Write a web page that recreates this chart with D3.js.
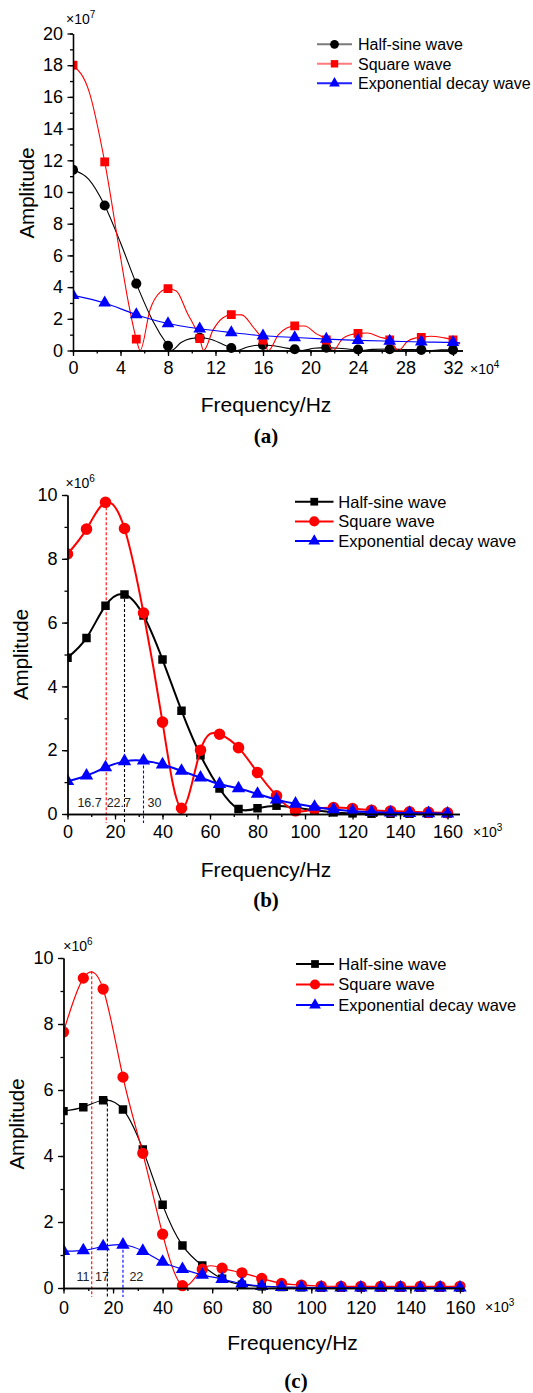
<!DOCTYPE html>
<html><head><meta charset="utf-8">
<script src="https://cdn.jsdelivr.net/npm/d3@7"></script>
<style>
body{margin:0;background:#fff}
svg{display:block}
text{font-family:"Liberation Sans",Arial,sans-serif;fill:#000}
</style>
</head><body>
<svg id="chart" width="533" height="1393"></svg>
<script>
// ---------------- data ----------------
const seriesNames = ["Half-sine wave", "Square wave", "Exponential decay wave"];

// panel (a): frequency x10^4 Hz, amplitude x10^7 (symbols)
const freqA = [0, 2.67, 5.33, 8, 10.67, 13.33, 16, 18.67, 21.33, 24, 26.67, 29.33, 32];
const halfSineA = [11.4, 9.15, 4.22, 0.3, 0.8, 0.16, 0.35, 0.08, 0.18, 0.06, 0.08, 0.04, 0.04];
const squareA = [18.0, 11.9, 0.72, 3.9, 0.75, 2.26, 0.66, 1.55, 0.66, 1.08, 0.66, 0.83, 0.66];
const expDecayA = [3.48, 3.0, 2.26, 1.7, 1.37, 1.13, 0.93, 0.82, 0.72, 0.64, 0.59, 0.54, 0.51];
// panel (a): traced line points (frequency, amplitude)
const halfSineLineFreqA = [0, 1.33, 2.67, 4.0, 5.33, 6.7, 8, 8.3, 9.1, 9.9, 10.67, 11.5, 12.6, 13.33, 13.8, 14.7, 15.3, 16, 16.9, 18.0, 18.67, 19.3, 20.3, 21.33, 22.4, 23.5, 24.1, 25.2, 26.67, 28.0, 29.33, 30.0, 31.0, 32];
const halfSineLineAmpA  = [11.4, 10.8, 9.15, 6.8, 4.22, 1.9, 0.3, 0, 0.5, 0.75, 0.8, 0.72, 0.4, 0.16, 0, 0.22, 0.32, 0.35, 0.3, 0.15, 0.08, 0, 0.14, 0.18, 0.14, 0.06, 0, 0.07, 0.09, 0.06, 0.04, 0, 0.04, 0.04];
const squareLineFreqA = [0, 1.33, 2.67, 4.0, 4.67, 5.33, 5.65, 6.5, 7.3, 8, 8.7, 9.6, 10.67, 11.0, 11.8, 12.6, 13.33, 14.2, 15.2, 16, 16.45, 17.3, 18.0, 18.67, 19.5, 20.5, 21.33, 21.9, 22.7, 23.4, 24, 24.8, 25.8, 26.67, 27.4, 28.2, 28.8, 29.33, 30.1, 31.1, 32, 32.6];
const squareLineAmpA  = [18.0, 16.4, 11.9, 5.9, 3.0, 0.72, 0, 2.6, 3.65, 3.9, 3.75, 2.4, 0.75, 0, 1.3, 2.05, 2.26, 2.25, 1.45, 0.66, 0, 1.0, 1.42, 1.55, 1.55, 1.05, 0.66, 0, 0.75, 1.0, 1.08, 1.1, 0.85, 0.66, 0, 0.6, 0.78, 0.83, 0.9, 0.82, 0.66, 0.4];
const expDecayLineFreqA = [0, 2.67, 5.33, 8, 10.67, 13.33, 16, 18.67, 21.33, 24, 26.67, 29.33, 32, 32.6];
const expDecayLineAmpA  = [3.48, 3.0, 2.26, 1.7, 1.37, 1.13, 0.93, 0.82, 0.72, 0.64, 0.59, 0.54, 0.51, 0.48];
const xTicksA = [0, 4, 8, 12, 16, 20, 24, 28, 32];
const yTicksA = [0, 2, 4, 6, 8, 10, 12, 14, 16, 18, 20];

// panel (b): frequency x10^3 Hz, amplitude x10^6
const freqB = [0, 8, 16, 24, 32, 40, 48, 56, 64, 72, 80, 88, 96, 104, 112, 120, 128, 136, 144, 152, 160];
const halfSineB = [4.9, 5.52, 6.53, 6.88, 6.22, 4.84, 3.24, 1.84, 0.8, 0.16, 0.18, 0.26, 0.2, 0.12, 0.05, 0.02, 0.01, 0.01, 0.01, 0.01, 0.01];
const squareB = [8.15, 8.93, 9.77, 8.95, 6.3, 2.88, 0.18, 2.0, 2.5, 2.08, 1.3, 0.57, 0.1, 0.15, 0.2, 0.17, 0.12, 0.09, 0.07, 0.05, 0.04];
const expDecayB = [1.03, 1.2, 1.46, 1.65, 1.67, 1.55, 1.35, 1.14, 0.94, 0.8, 0.63, 0.45, 0.32, 0.22, 0.14, 0.09, 0.06, 0.04, 0.03, 0.02, 0.01];
const peakFreqB = [16.3, 24, 32];
const peakAmpB = [9.77, 6.9, 1.68];
const peakColorB = ["#ff0000", "#000000", "#0000ff"];
const peakLabelsB = ["16.7", "22.7", "30"];
const peakLabelFreqB = [9.3, 21.6, 36.6];

// panel (c): frequency x10^3 Hz, amplitude x10^6
const freqC = [0, 8, 16, 24, 32, 40, 48, 56, 64, 72, 80, 88, 96, 104, 112, 120, 128, 136, 144, 152, 160];
const halfSineC = [5.36, 5.48, 5.69, 5.41, 4.2, 2.52, 1.29, 0.68, 0.28, 0.1, 0.05, 0.03, 0.02, 0.01, 0.01, 0.01, 0.01, 0.01, 0.01, 0.01, 0.01];
const squareC = [7.76, 9.39, 9.06, 6.39, 4.08, 1.63, 0.07, 0.57, 0.6, 0.46, 0.29, 0.14, 0.09, 0.06, 0.05, 0.05, 0.05, 0.05, 0.05, 0.05, 0.05];
const expDecayC = [1.12, 1.14, 1.26, 1.31, 1.12, 0.79, 0.57, 0.4, 0.27, 0.13, 0.06, 0.03, 0.02, 0.01, 0.01, 0.01, 0.01, 0.01, 0.01, 0.01, 0.01];
const peakFreqC = [11.4, 17.7, 24];
const peakAmpC = [9.6, 5.74, 1.31];
const peakColorC = ["#ff0000", "#000000", "#0000ff"];
const peakLabelsC = ["11", "17", "22"];
const peakLabelFreqC = [7.9, 15.5, 29.4];

const xTicksBC = [0, 20, 40, 60, 80, 100, 120, 140, 160];
const yTicksBC = [0, 2, 4, 6, 8, 10];

// ---------------- drawing ----------------
const svg = d3.select("#chart");
const colors = ["#000000", "#ff0000", "#0000ff"];

function drawPanel(p) {
  const x = d3.scaleLinear().domain(p.xDomain).range(p.xRange);
  const y = d3.scaleLinear().domain(p.yDomain).range(p.yRange);
  const g = svg.append("g");
  const defs = svg.append("defs");
  defs.append("clipPath").attr("id", "lc" + p.id).append("rect")
    .attr("x", p.xRange[0]).attr("y", p.yRange[1] - 40)
    .attr("width", p.xRange[1] - p.xRange[0] + 10).attr("height", p.yRange[0] - p.yRange[1] + 40);
  defs.append("clipPath").attr("id", "mc" + p.id).append("rect")
    .attr("x", p.xRange[0]).attr("y", p.yRange[1] - 40)
    .attr("width", 533 - p.xRange[0]).attr("height", p.yRange[0] - p.yRange[1] + 60);

  // dashed peak lines
  if (p.peakFreq) {
    p.peakFreq.forEach((f, i) => {
      g.append("line")
        .attr("x1", x(f)).attr("x2", x(f))
        .attr("y1", y(p.peakAmp[i])).attr("y2", y(0) + 9)
        .attr("stroke", p.peakColor[i])
        .attr("stroke-width", 1.1).attr("stroke-dasharray", "3,2");
      g.append("text").attr("x", x(p.peakLabelFreq[i])).attr("y", y(0) - 7)
        .attr("text-anchor", "middle").style("font-size", "12.5px").style("fill", "#222")
        .text(p.peakLabels[i]);
    });
  }

  // series
  p.series.forEach((s, si) => {
    const pts = p.freq.map((f, i) => [f, s[i]]);
    const linePts = p.lines ? p.lines[si][0].map((f, i) => [f, p.lines[si][1][i]]) : pts;
    g.append("path").datum(linePts)
      .attr("clip-path", `url(#lc${p.id})`)
      .attr("d", d3.line().x(d => x(d[0])).y(d => y(d[1])).curve(p.curve))
      .attr("fill", "none").attr("stroke", colors[si]).attr("stroke-width", p.lineWidth);
    g.append("g").attr("clip-path", `url(#mc${p.id})`)
      .selectAll("path").data(pts).join("path")
      .attr("transform", d => `translate(${x(d[0])},${y(d[1])})`)
      .attr("d", d3.symbol().type(p.symbols[si]).size(p.symSizes[si]))
      .attr("fill", colors[si]);
  });

  // axes
  const fs = "18px";
  const yMinor = d3.range(p.yDomain[0], p.yDomain[1] + 0.001, p.yMinorStep);
  const xMinor = d3.range(0, p.xDomain[1], p.xMinorStep);
  g.append("g").attr("transform", `translate(${x(0)},0)`)
    .call(d3.axisLeft(y).tickValues(yMinor).tickSize(3).tickSizeOuter(0).tickFormat(""))
    .call(a => a.selectAll("line,path").attr("stroke-width", 1.3));
  g.append("g").attr("transform", `translate(${x(0)},0)`)
    .call(d3.axisLeft(y).tickValues(p.yTicks).tickSize(5.5).tickSizeOuter(0).tickPadding(4.5))
    .call(a => a.selectAll("line,path").attr("stroke-width", 1.3))
    .call(a => a.selectAll("text").style("font-size", fs));
  g.append("g").attr("transform", `translate(0,${y(0)})`)
    .call(d3.axisBottom(x).tickValues(xMinor).tickSize(3).tickSizeOuter(0).tickFormat(""))
    .call(a => a.selectAll("line,path").attr("stroke-width", 1.3));
  g.append("g").attr("transform", `translate(0,${y(0)})`)
    .call(d3.axisBottom(x).tickValues(p.xTicks).tickSize(5.5).tickSizeOuter(0).tickPadding(p.xPad))
    .call(a => a.selectAll("line,path").attr("stroke-width", 1.3))
    .call(a => a.selectAll("text").style("font-size", fs));
  svg.selectAll(".domain").attr("stroke", "#000");

  // multipliers
  const ym = g.append("text").attr("x", p.yMult[0]).attr("y", p.yMult[1]).style("font-size", "14px");
  ym.append("tspan").text("×10");
  ym.append("tspan").attr("dy", -6).style("font-size", "10px").text(p.yExp);
  const xm = g.append("text").attr("x", p.xMult[0]).attr("y", p.xMult[1]).style("font-size", "14px");
  xm.append("tspan").text("×10");
  xm.append("tspan").attr("dy", -6).style("font-size", "10px").text(p.xExp);

  // titles
  g.append("text").attr("transform", `translate(${p.yTitle[0]},${p.yTitle[1]}) rotate(-90)`)
    .attr("text-anchor", "middle").style("font-size", "20.5px").text("Amplitude");
  g.append("text").attr("x", p.xTitle[0]).attr("y", p.xTitle[1])
    .attr("text-anchor", "middle").style("font-size", "21px").text("Frequency/Hz");
  g.append("text").attr("x", p.tag[0]).attr("y", p.tag[1]).attr("text-anchor", "middle")
    .style("font-family", "'Liberation Serif','Times New Roman',serif")
    .style("font-weight", "bold").style("font-size", "21px").text(p.tagText);

  // legend
  const L = p.legend;
  seriesNames.forEach((name, i) => {
    const yy = L.y0 + i * L.dy;
    g.append("line").attr("x1", L.x1).attr("x2", L.x2).attr("y1", yy).attr("y2", yy)
      .attr("stroke", L.lineColors[i]).attr("stroke-width", L.lw);
    g.append("path").attr("transform", `translate(${(L.x1 + L.x2) / 2},${yy})`)
      .attr("d", d3.symbol().type(p.symbols[i]).size(L.symSizes[i])).attr("fill", colors[i]);
    g.append("text").attr("x", L.tx).attr("y", yy).attr("dy", "0.36em")
      .style("font-size", L.fs).text(name);
  });
}

drawPanel({
  id: "a", freq: freqA, series: [halfSineA, squareA, expDecayA],
  lines: [[halfSineLineFreqA, halfSineLineAmpA], [squareLineFreqA, squareLineAmpA], [expDecayLineFreqA, expDecayLineAmpA]],
  curve: d3.curveMonotoneX,
  xDomain: [0, 32.8], xRange: [73, 462.5], yDomain: [0, 20], yRange: [350.5, 33.5],
  xTicks: xTicksA, yTicks: yTicksA, xMinorStep: 2, yMinorStep: 1, xPad: 5,
  lineWidth: 1.1,
  symbols: [d3.symbolCircle, d3.symbolSquare, d3.symbolTriangle], symSizes: [80, 78, 70],
  yMult: [66, 24], yExp: "7", xMult: [470, 374], xExp: "4",
  yTitle: [33.5, 193], xTitle: [266, 412], tag: [266, 443], tagText: "(a)",
  legend: { x1: 317, x2: 352, y0: 44.3, dy: 19.5, tx: 358, fs: "16px", lw: 2,
    lineColors: ["#7a7a7a", "#ff7a7a", "#2020ff"], symSizes: [60, 55, 50] }
});

drawPanel({
  id: "b", freq: freqB, series: [halfSineB, squareB, expDecayB], curve: d3.curveNatural,
  xDomain: [0, 165], xRange: [67.5, 459.4], yDomain: [0, 10], yRange: [814, 495],
  xTicks: xTicksBC, yTicks: yTicksBC, xMinorStep: 10, yMinorStep: 1, xPad: 5.5,
  lineWidth: 2,
  symbols: [d3.symbolSquare, d3.symbolCircle, d3.symbolTriangle], symSizes: [72, 105, 78],
  peakFreq: peakFreqB, peakAmp: peakAmpB, peakColor: peakColorB, peakLabels: peakLabelsB, peakLabelFreq: peakLabelFreqB,
  yMult: [65.5, 488], yExp: "6", xMult: [473, 836.5], xExp: "3",
  yTitle: [27.5, 654.5], xTitle: [266, 877], tag: [266, 907], tagText: "(b)",
  legend: { x1: 295, x2: 333.5, y0: 501.7, dy: 19.7, tx: 338.3, fs: "16.5px", lw: 2,
    lineColors: colors, symSizes: [60, 80, 60] }
});

drawPanel({
  id: "c", freq: freqC, series: [halfSineC, squareC, expDecayC], curve: d3.curveNatural,
  xDomain: [0, 161.5], xRange: [63.5, 463.7], yDomain: [0, 10], yRange: [1288, 958],
  xTicks: xTicksBC, yTicks: yTicksBC, xMinorStep: 10, yMinorStep: 1, xPad: 8,
  lineWidth: 1.2,
  symbols: [d3.symbolSquare, d3.symbolCircle, d3.symbolTriangle], symSizes: [72, 100, 78],
  peakFreq: peakFreqC, peakAmp: peakAmpC, peakColor: peakColorC, peakLabels: peakLabelsC, peakLabelFreq: peakLabelFreqC,
  yMult: [63.3, 951], yExp: "6", xMult: [485, 1311.5], xExp: "3",
  yTitle: [23.5, 1124], xTitle: [292.5, 1350], tag: [296, 1388], tagText: "(c)",
  legend: { x1: 296, x2: 334, y0: 964, dy: 20.5, tx: 338.3, fs: "16.5px", lw: 2,
    lineColors: colors, symSizes: [60, 80, 60] }
});
</script>
</body></html>
